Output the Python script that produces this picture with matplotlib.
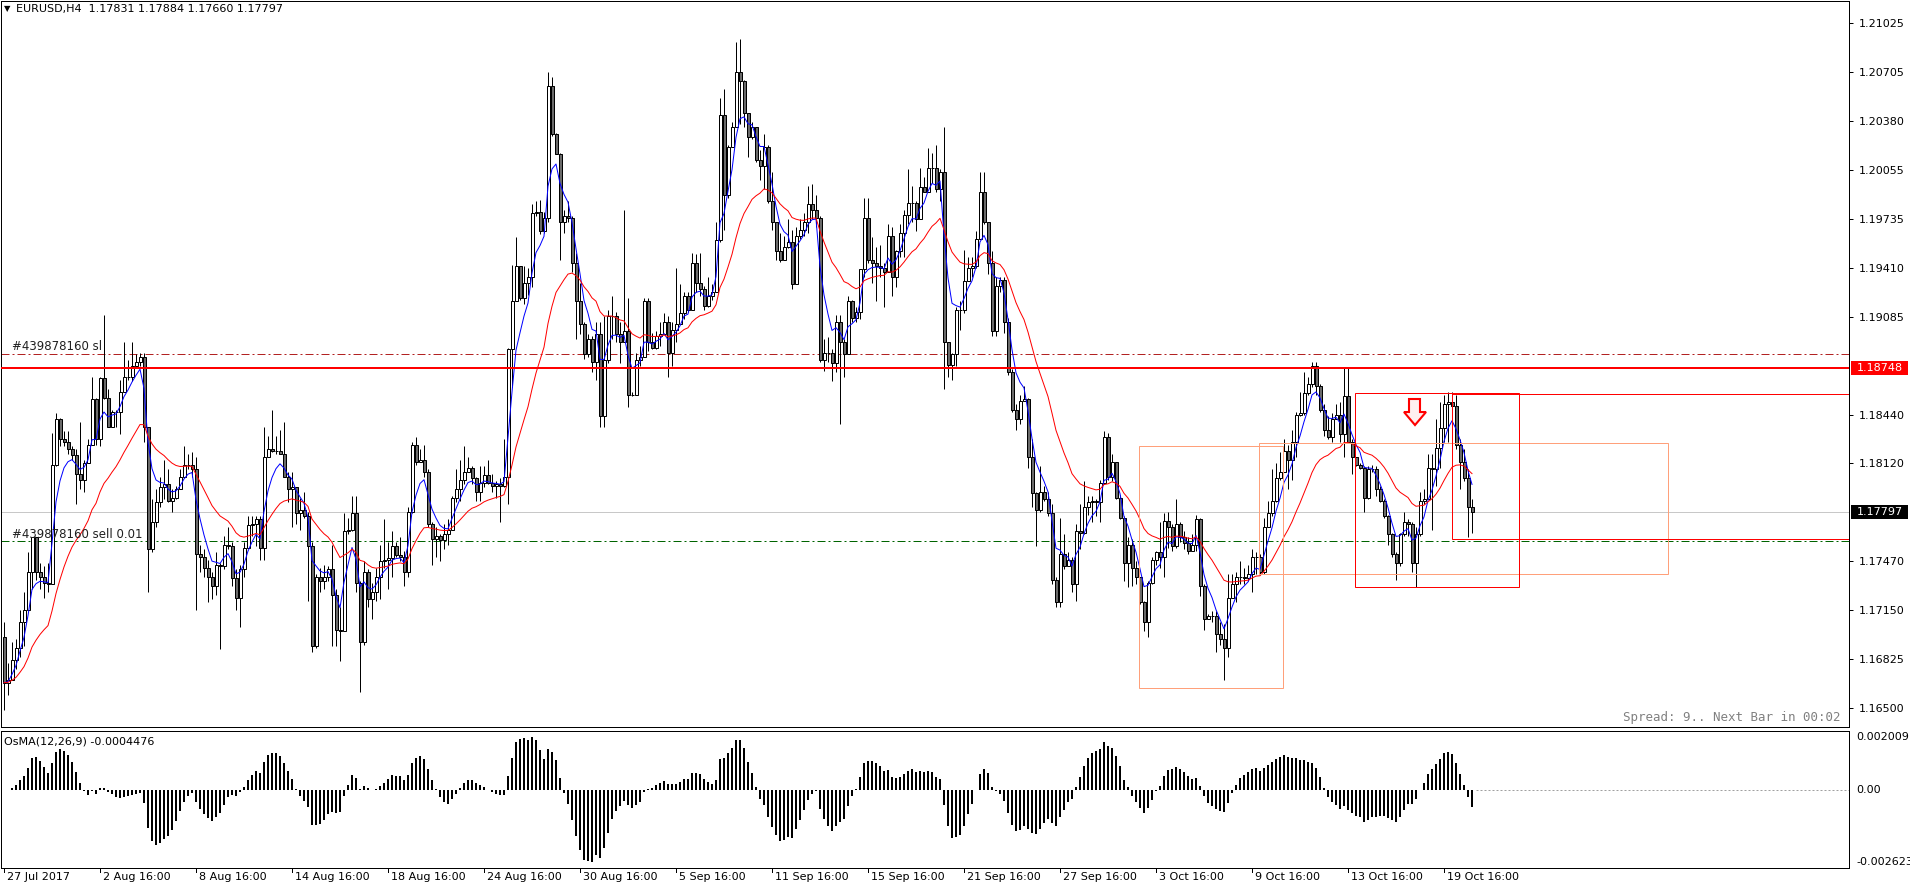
import numpy as np
import pandas as pd
import matplotlib
matplotlib.use("Agg")
import matplotlib.pyplot as plt
from matplotlib.patches import Rectangle, Polygon

# EURUSD H4, first bar 27 Jul 2017 16:00; open of each bar = close of the one before
first_open = 1.1697
close = np.array([
    1.1667, 1.1669, 1.1682, 1.1690, 1.1707, 1.1715, 1.1740, 1.1763, 1.1740, 1.1737, 1.1733, 1.1732,
    1.1811, 1.1841, 1.1828, 1.1826, 1.1821, 1.1817, 1.1805, 1.1801, 1.1812, 1.1824, 1.1854, 1.1828,
    1.1868, 1.1855, 1.1836, 1.1846, 1.1846, 1.1859, 1.1869, 1.1869, 1.1876, 1.1879, 1.1882, 1.1836,
    1.1755, 1.1773, 1.1786, 1.1796, 1.1798, 1.1787, 1.1789, 1.1795, 1.1803, 1.1811, 1.1811, 1.1808,
    1.1752, 1.1750, 1.1743, 1.1737, 1.1731, 1.1745, 1.1744, 1.1758, 1.1757, 1.1736, 1.1723, 1.1742,
    1.1756, 1.1771, 1.1772, 1.1775, 1.1756, 1.1816, 1.1821, 1.1820, 1.1820, 1.1818, 1.1803, 1.1795,
    1.1796, 1.1779, 1.1781, 1.1777, 1.1757, 1.1691, 1.1737, 1.1734, 1.1737, 1.1742, 1.1725, 1.1702,
    1.1701, 1.1767, 1.1768, 1.1779, 1.1733, 1.1694, 1.1740, 1.1722, 1.1727, 1.1737, 1.1747, 1.1748,
    1.1749, 1.1757, 1.1751, 1.1750, 1.1740, 1.1780, 1.1824, 1.1813, 1.1814, 1.1806, 1.1772, 1.1762,
    1.1764, 1.1761, 1.1765, 1.1768, 1.1789, 1.1795, 1.1801, 1.1806, 1.1809, 1.1802, 1.1793, 1.1799,
    1.1804, 1.1799, 1.1797, 1.1798, 1.1797, 1.1803, 1.1887, 1.1919, 1.1942, 1.1921, 1.1931, 1.1935,
    1.1977, 1.1978, 1.1965, 1.1974, 1.2061, 1.2029, 1.2016, 1.1971, 1.1975, 1.1974, 1.1944, 1.1919,
    1.1904, 1.1884, 1.1894, 1.1879, 1.1897, 1.1843, 1.1880, 1.1909, 1.1909, 1.1897, 1.1892, 1.1899,
    1.1857, 1.1857, 1.1880, 1.1882, 1.1919, 1.1892, 1.1888, 1.1896, 1.1897, 1.1905, 1.1885, 1.1900,
    1.1904, 1.1911, 1.1922, 1.1913, 1.1944, 1.1931, 1.1927, 1.1916, 1.1922, 1.1925, 1.1959, 1.2042,
    1.1989, 1.2021, 1.2034, 1.2070, 1.2064, 1.2043, 1.2027, 1.2034, 1.2012, 1.2008, 1.2021, 1.1985,
    1.1971, 1.1952, 1.1946, 1.1955, 1.1958, 1.1930, 1.1962, 1.1966, 1.1971, 1.1983, 1.1979, 1.1974,
    1.1880, 1.1885, 1.1885, 1.1878, 1.1905, 1.1892, 1.1884, 1.1919, 1.1908, 1.1912, 1.1940, 1.1974,
    1.1946, 1.1944, 1.1942, 1.1941, 1.1938, 1.1962, 1.1935, 1.1952, 1.1964, 1.1976, 1.1984, 1.1984,
    1.1973, 1.1994, 1.1991, 1.2007, 1.2007, 1.1993, 1.2004, 1.1892, 1.1877, 1.1884, 1.1913, 1.1913,
    1.1932, 1.1941, 1.1942, 1.1960, 1.1991, 1.1971, 1.1944, 1.1899, 1.1929, 1.1933, 1.1905, 1.1872,
    1.1847, 1.1841, 1.1853, 1.1854, 1.1816, 1.1792, 1.1781, 1.1793, 1.1788, 1.1779, 1.1735, 1.1720,
    1.1752, 1.1744, 1.1748, 1.1732, 1.1767, 1.1766, 1.1783, 1.1786, 1.1787, 1.1786, 1.1799, 1.1829,
    1.1803, 1.1813, 1.1789, 1.1776, 1.1746, 1.1758, 1.1743, 1.1737, 1.1720, 1.1707, 1.1733, 1.1748,
    1.1753, 1.1750, 1.1774, 1.1770, 1.1757, 1.1772, 1.1763, 1.1759, 1.1754, 1.1758, 1.1775, 1.1731,
    1.1709, 1.1711, 1.1711, 1.1699, 1.1696, 1.1690, 1.1723, 1.1732, 1.1737, 1.1737, 1.1736, 1.1739,
    1.1750, 1.1750, 1.1740, 1.1770, 1.1779, 1.1787, 1.1802, 1.1806, 1.1820, 1.1814, 1.1826, 1.1844,
    1.1845, 1.1858, 1.1864, 1.1876, 1.1863, 1.1847, 1.1834, 1.1829, 1.1841, 1.1844, 1.1831, 1.1856,
    1.1826, 1.1816, 1.1811, 1.1809, 1.1789, 1.1808, 1.1808, 1.1795, 1.1787, 1.1777, 1.1765, 1.1752,
    1.1746, 1.1765, 1.1773, 1.1772, 1.1746, 1.1765, 1.1787, 1.1788, 1.1809, 1.1808, 1.1822, 1.1835,
    1.1851, 1.1852, 1.1850, 1.1824, 1.1813, 1.1802, 1.17831, 1.17797,
])
high = np.array([
    1.1707, 1.1680, 1.1694, 1.1696, 1.1715, 1.1727, 1.1753, 1.1763, 1.1750, 1.1746, 1.1744, 1.1746,
    1.1832, 1.1845, 1.1842, 1.1833, 1.1833, 1.1823, 1.1821, 1.1839, 1.1814, 1.1828, 1.1869, 1.1855,
    1.1869, 1.1910, 1.1861, 1.1847, 1.1847, 1.1867, 1.1892, 1.1880, 1.1892, 1.1884, 1.1885, 1.1885,
    1.1836, 1.1788, 1.1795, 1.1803, 1.1814, 1.1808, 1.1795, 1.1797, 1.1808, 1.1823, 1.1818, 1.1819,
    1.1816, 1.1758, 1.1755, 1.1748, 1.1740, 1.1753, 1.1746, 1.1764, 1.1770, 1.1760, 1.1742, 1.1745,
    1.1760, 1.1777, 1.1777, 1.1777, 1.1777, 1.1836, 1.1830, 1.1847, 1.1830, 1.1834, 1.1839, 1.1806,
    1.1806, 1.1795, 1.1789, 1.1793, 1.1780, 1.1760, 1.1739, 1.1743, 1.1745, 1.1744, 1.1758, 1.1729,
    1.1717, 1.1779, 1.1776, 1.1790, 1.1790, 1.1734, 1.1747, 1.1742, 1.1733, 1.1743, 1.1758, 1.1775,
    1.1760, 1.1767, 1.1760, 1.1763, 1.1754, 1.1783, 1.1826, 1.1829, 1.1821, 1.1824, 1.1808, 1.1773,
    1.1770, 1.1765, 1.1772, 1.1775, 1.1790, 1.1808, 1.1814, 1.1823, 1.1816, 1.1810, 1.1803, 1.1810,
    1.1810, 1.1814, 1.1805, 1.1800, 1.1802, 1.1828, 1.1888, 1.1943, 1.1961, 1.1942, 1.1942, 1.1941,
    1.1983, 1.1985, 1.1986, 1.1978, 1.2070, 1.2067, 1.2030, 1.2017, 1.1979, 1.1985, 1.1975, 1.1951,
    1.1931, 1.1905, 1.1897, 1.1896, 1.1905, 1.1905, 1.1909, 1.1913, 1.1922, 1.1912, 1.1905, 1.1979,
    1.1921, 1.1859, 1.1885, 1.1889, 1.1921, 1.1921, 1.1898, 1.1899, 1.1905, 1.1911, 1.1909, 1.1905,
    1.1941, 1.1930, 1.1925, 1.1925, 1.1951, 1.1950, 1.1951, 1.1929, 1.1935, 1.1930, 1.1971, 1.2053,
    1.2059, 1.2022, 1.2037, 1.2090, 1.2092, 1.2065, 1.2043, 1.2037, 1.2024, 1.2019, 1.2029, 1.2022,
    1.2004, 1.1971, 1.1964, 1.1962, 1.1973, 1.1966, 1.1968, 1.1973, 1.1977, 1.1995, 1.1996, 1.1989,
    1.1975, 1.1894, 1.1895, 1.1887, 1.1910, 1.1910, 1.1894, 1.1922, 1.1920, 1.1915, 1.1940, 1.1987,
    1.1987, 1.1961, 1.1955, 1.1956, 1.1944, 1.1970, 1.1968, 1.1953, 1.1970, 1.1979, 1.2006, 1.1995,
    1.1985, 1.2007, 1.2001, 1.2020, 1.2017, 1.2022, 1.2006, 1.2034, 1.1892, 1.1885, 1.1915, 1.1919,
    1.1953, 1.1948, 1.1948, 1.1965, 1.2004, 1.2004, 1.1971, 1.1952, 1.1935, 1.1935, 1.1935, 1.1908,
    1.1874, 1.1851, 1.1857, 1.1863, 1.1855, 1.1828, 1.1793, 1.1810, 1.1797, 1.1793, 1.1785, 1.1737,
    1.1776, 1.1765, 1.1753, 1.1750, 1.1772, 1.1785, 1.1800, 1.1790, 1.1790, 1.1788, 1.1801, 1.1833,
    1.1832, 1.1818, 1.1813, 1.1791, 1.1777, 1.1763, 1.1762, 1.1747, 1.1732, 1.1721, 1.1734, 1.1750,
    1.1754, 1.1773, 1.1779, 1.1780, 1.1772, 1.1788, 1.1773, 1.1767, 1.1763, 1.1765, 1.1778, 1.1776,
    1.1732, 1.1712, 1.1714, 1.1714, 1.1707, 1.1706, 1.1739, 1.1739, 1.1740, 1.1747, 1.1743, 1.1745,
    1.1755, 1.1753, 1.1752, 1.1776, 1.1787, 1.1808, 1.1812, 1.1819, 1.1828, 1.1824, 1.1834, 1.1846,
    1.1859, 1.1872, 1.1869, 1.1879, 1.1879, 1.1864, 1.1851, 1.1843, 1.1845, 1.1851, 1.1852, 1.1875,
    1.1875, 1.1828, 1.1813, 1.1812, 1.1810, 1.1810, 1.1811, 1.1810, 1.1797, 1.1788, 1.1778, 1.1766,
    1.1753, 1.1766, 1.1780, 1.1775, 1.1773, 1.1770, 1.1793, 1.1795, 1.1818, 1.1818, 1.1841, 1.1852,
    1.1857, 1.1859, 1.1859, 1.1857, 1.1828, 1.1821, 1.1808, 1.17884,
])
low = np.array([
    1.1649, 1.1659, 1.1676, 1.1676, 1.1684, 1.1691, 1.1717, 1.1729, 1.1735, 1.1729, 1.1723, 1.1727,
    1.1732, 1.1810, 1.1823, 1.1823, 1.1818, 1.1814, 1.1785, 1.1795, 1.1793, 1.1812, 1.1824, 1.1824,
    1.1823, 1.1854, 1.1836, 1.1836, 1.1836, 1.1831, 1.1859, 1.1867, 1.1866, 1.1875, 1.1876, 1.1826,
    1.1727, 1.1753, 1.1770, 1.1783, 1.1788, 1.1786, 1.1780, 1.1788, 1.1795, 1.1803, 1.1808, 1.1803,
    1.1715, 1.1740, 1.1737, 1.1720, 1.1722, 1.1725, 1.1689, 1.1742, 1.1755, 1.1731, 1.1715, 1.1704,
    1.1737, 1.1756, 1.1764, 1.1757, 1.1748, 1.1748, 1.1816, 1.1819, 1.1818, 1.1818, 1.1803, 1.1786,
    1.1770, 1.1772, 1.1768, 1.1776, 1.1721, 1.1687, 1.1690, 1.1727, 1.1729, 1.1734, 1.1691, 1.1691,
    1.1681, 1.1701, 1.1765, 1.1767, 1.1727, 1.1661, 1.1692, 1.1717, 1.1709, 1.1721, 1.1722, 1.1743,
    1.1729, 1.1737, 1.1750, 1.1747, 1.1731, 1.1737, 1.1779, 1.1811, 1.1813, 1.1803, 1.1770, 1.1745,
    1.1750, 1.1747, 1.1755, 1.1758, 1.1770, 1.1786, 1.1787, 1.1798, 1.1806, 1.1798, 1.1787, 1.1787,
    1.1796, 1.1798, 1.1793, 1.1789, 1.1773, 1.1796, 1.1785, 1.1862, 1.1919, 1.1920, 1.1917, 1.1923,
    1.1928, 1.1975, 1.1963, 1.1964, 1.1971, 1.2028, 1.2016, 1.1946, 1.1964, 1.1971, 1.1938, 1.1894,
    1.1897, 1.1881, 1.1882, 1.1872, 1.1867, 1.1836, 1.1836, 1.1878, 1.1894, 1.1892, 1.1878, 1.1892,
    1.1849, 1.1856, 1.1876, 1.1876, 1.1882, 1.1886, 1.1887, 1.1887, 1.1889, 1.1897, 1.1869, 1.1876,
    1.1892, 1.1904, 1.1907, 1.1912, 1.1913, 1.1925, 1.1922, 1.1913, 1.1915, 1.1920, 1.1925, 1.1958,
    1.1966, 1.1987, 1.2021, 1.2034, 1.2036, 1.2034, 1.2014, 1.2026, 1.2011, 1.1999, 1.1993, 1.1984,
    1.1966, 1.1946, 1.1945, 1.1946, 1.1954, 1.1927, 1.1930, 1.1960, 1.1962, 1.1964, 1.1973, 1.1968,
    1.1879, 1.1873, 1.1879, 1.1866, 1.1872, 1.1838, 1.1869, 1.1884, 1.1905, 1.1905, 1.1907, 1.1935,
    1.1944, 1.1931, 1.1919, 1.1935, 1.1915, 1.1938, 1.1922, 1.1928, 1.1948, 1.1948, 1.1970, 1.1971,
    1.1965, 1.1973, 1.1991, 1.1991, 1.1997, 1.1991, 1.1985, 1.1861, 1.1869, 1.1867, 1.1876, 1.1900,
    1.1911, 1.1932, 1.1935, 1.1941, 1.1960, 1.1970, 1.1937, 1.1896, 1.1896, 1.1925, 1.1898, 1.1870,
    1.1846, 1.1834, 1.1838, 1.1853, 1.1809, 1.1783, 1.1757, 1.1780, 1.1787, 1.1777, 1.1732, 1.1717,
    1.1717, 1.1742, 1.1744, 1.1727, 1.1721, 1.1755, 1.1765, 1.1778, 1.1773, 1.1777, 1.1773, 1.1798,
    1.1801, 1.1800, 1.1788, 1.1775, 1.1734, 1.1730, 1.1731, 1.1732, 1.1719, 1.1701, 1.1697, 1.1732,
    1.1745, 1.1743, 1.1737, 1.1756, 1.1754, 1.1756, 1.1760, 1.1755, 1.1752, 1.1754, 1.1754, 1.1724,
    1.1702, 1.1709, 1.1707, 1.1687, 1.1692, 1.1669, 1.1684, 1.1723, 1.1720, 1.1732, 1.1732, 1.1734,
    1.1727, 1.1739, 1.1739, 1.1739, 1.1770, 1.1777, 1.1786, 1.1801, 1.1806, 1.1795, 1.1801, 1.1816,
    1.1843, 1.1844, 1.1857, 1.1862, 1.1857, 1.1846, 1.1830, 1.1828, 1.1826, 1.1841, 1.1826, 1.1816,
    1.1826, 1.1805, 1.1810, 1.1808, 1.1780, 1.1788, 1.1806, 1.1790, 1.1786, 1.1776, 1.1758, 1.1750,
    1.1735, 1.1744, 1.1764, 1.1764, 1.1740, 1.1730, 1.1764, 1.1785, 1.1788, 1.1768, 1.1797, 1.1809,
    1.1826, 1.1826, 1.1849, 1.1821, 1.1795, 1.1800, 1.1763, 1.17660,
])

date_labels = ["27 Jul 2017", "2 Aug 16:00", "8 Aug 16:00", "14 Aug 16:00", "18 Aug 16:00",
               "24 Aug 16:00", "30 Aug 16:00", "5 Sep 16:00", "11 Sep 16:00", "15 Sep 16:00",
               "21 Sep 16:00", "27 Sep 16:00", "3 Oct 16:00", "9 Oct 16:00", "13 Oct 16:00",
               "19 Oct 16:00"]
bars_per_label = 24

price_ticks = [1.21025, 1.20705, 1.20380, 1.20055, 1.19735, 1.19410, 1.19085,
               1.18440, 1.18120, 1.17470, 1.17150, 1.16825, 1.16500]

level_price = 1.18748   # red horizontal line
sl_price = 1.18840      # order stop loss
entry_price = 1.17605   # order open price
bid_price = 1.17797
osma_top, osma_bottom = 0.0020091, -0.0026231
osma_last = -0.0004476

# --- figure geometry (pixels of the 1910x884 MT4 screenshot) ---
W, H = 1910, 884
fig = plt.figure(figsize=(W / 100, H / 100), dpi=100)
PX = 0.72  # one pixel in points


def fx(x):
    return x / W


def fy(y):
    return 1 - y / H


ax = fig.add_axes([fx(1), fy(727), fx(1848), 726 / H])
ax2 = fig.add_axes([fx(1), fy(868), fx(1848), 137 / H])

n = len(close)
x = np.arange(n)
opens = np.r_[first_open, close[:-1]]
up = close >= opens

# candles
ax.vlines(x, low, high, color="black", lw=PX, zorder=3)
ax.bar(x[up], close[up] - opens[up], bottom=opens[up], width=0.75,
       color="white", edgecolor="black", lw=PX, zorder=4)
ax.bar(x[~up], close[~up] - opens[~up], bottom=opens[~up], width=0.75,
       color="#6a6a6a", edgecolor="black", lw=PX, zorder=4)

# moving averages
s = pd.Series(close)
ax.plot(x, s.ewm(span=5, adjust=False).mean(), color="#0000ff", lw=PX, zorder=5)
ax.plot(x, s.ewm(span=21, adjust=False).mean(), color="#ff0000", lw=PX, zorder=5)

# horizontal lines
ax.axhline(bid_price, color="#c8c8c8", lw=PX, zorder=1)
ax.axhline(level_price, color="#ff0000", lw=2 * PX, zorder=6)
ax.axhline(sl_price, color="#b22222", lw=PX, dashes=(8, 3, 2, 3), zorder=2)
ax.axhline(entry_price, color="#006400", lw=PX, dashes=(8, 3, 2, 3), zorder=2)

# rectangles drawn on the chart (bar index, price)
boxes = [
    (283.8, 319.8, 1.18235, 1.16632, "#ffa07a"),
    (313.8, 415.9, 1.18251, 1.17385, "#ffa07a"),
    (337.8, 378.8, 1.18581, 1.17300, "#ff0000"),
    (361.9, 470.0, 1.18574, 1.17617, "#ff0000"),
]
for x0, x1, y0, y1, c in boxes:
    ax.add_patch(Rectangle((x0, y1), x1 - x0, y0 - y1, fill=False, edgecolor=c, lw=PX, zorder=7))

# down arrow
arrow = [(351.25, 1.18543), (354.0, 1.18543), (354.0, 1.18457), (355.5, 1.18457),
         (352.75, 1.18371), (350.0, 1.18457), (351.25, 1.18457)]
ax.add_patch(Polygon(arrow, closed=True, facecolor="#fff0f0", edgecolor="#ff0000", lw=1.5, zorder=8))

ax.set_xlim(-0.75, 461.25)
ax.set_ylim(1.21178 - 0.00006604 * 727, 1.21178 - 0.00006604 * 1)
ax.set_xticks([])
ax.yaxis.tick_right()
ax.set_yticks(price_ticks)
ax.set_yticklabels([f"{p:.5f}" for p in price_ticks])
ax.tick_params(axis="y", length=3, width=PX, pad=4, labelsize=8, colors="black")
for sp in ax.spines.values():
    sp.set_linewidth(PX)

# OsMA(12,26,9)
ema12 = s.ewm(span=12, adjust=False).mean()
ema26 = s.ewm(span=26, adjust=False).mean()
macd = ema12 - ema26
osma = macd - macd.rolling(9, min_periods=1).mean()
ax2.vlines(x, 0, osma, color="black", lw=2 * PX)
ax2.plot([n, 461.25], [0, 0], color="#a0a0a0", lw=PX, ls=(0, (2, 2)))
ax2.set_xlim(-0.75, 461.25)
ax2.set_ylim(osma_bottom, osma_top)
ax2.set_xticks([])
ax2.set_yticks([])
for sp in ax2.spines.values():
    sp.set_linewidth(PX)

font = "DejaVu Sans"
fs = 8

# price label boxes on the axis
for price, bg in [(level_price, "#ff0000"), (bid_price, "#000000")]:
    yy = (1.21178 - price) / 0.00006604
    fig.patches.append(Rectangle((fx(1851), fy(yy + 7)), fx(57), 14 / H, transform=fig.transFigure,
                                 facecolor=bg, edgecolor="none", zorder=10))
    fig.text(fx(1857), fy(yy), f"{price:.5f}", color="white", fontsize=fs, family=font,
             va="center", ha="left", zorder=11)

# OsMA scale labels
fig.text(fx(1856), fy(737), f"{osma_top:.7f}", fontsize=fs, family=font, va="center")
fig.text(fx(1856), fy(790), "0.00", fontsize=fs, family=font, va="center")
fig.text(fx(1856), fy(862), f"{osma_bottom:.7f}", fontsize=fs, family=font, va="center")

# header / labels
fig.text(fx(4), fy(9), "\u25bc", fontsize=6, family=font, va="center")
fig.text(fx(16), fy(9), "EURUSD,H4  1.17831 1.17884 1.17660 1.17797", fontsize=fs, family=font,
         va="center")
fig.text(fx(12), fy(347), "#439878160 sl", fontsize=8.5, family=font, va="center", color="#202020")
fig.text(fx(12), fy(534), "#439878160 sell 0.01", fontsize=8.5, family=font, va="center",
         color="#202020")
fig.text(fx(1840), fy(717), "Spread: 9.. Next Bar in 00:02", fontsize=9, family="DejaVu Sans Mono",
         va="center", ha="right", color="#808080")
fig.text(fx(4), fy(741), f"OsMA(12,26,9) {osma_last:.7f}", fontsize=fs, family=font, va="center")

# date axis
for k, lab in enumerate(date_labels):
    xp = 4 + 4 * bars_per_label * k
    fig.add_artist(plt.Line2D([fx(xp), fx(xp)], [fy(868), fy(872)], color="black", lw=PX))
    fig.text(fx(xp + 3), fy(877), lab, fontsize=fs, family=font, va="center", ha="left")

fig.savefig("out.png", dpi=100)
